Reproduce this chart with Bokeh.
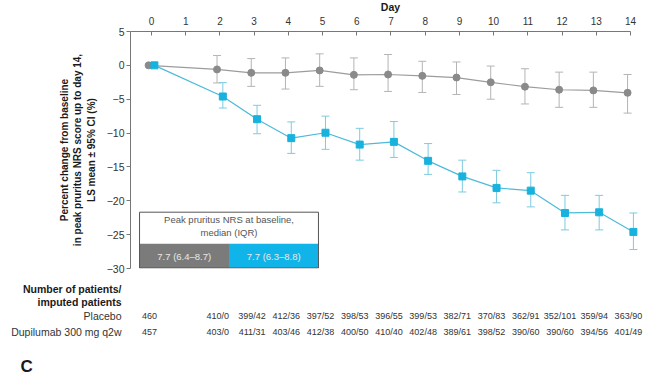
from bokeh.plotting import figure
from bokeh.models import Range1d, ColumnDataSource, Whisker, TeeHead, FixedTicker
from bokeh.transform import dodge
from bokeh.core.properties import value
from bokeh.embed import file_html
from bokeh.resources import INLINE

FONT = "Liberation Sans"

# ---------------- data ----------------
days = [0, 2, 3, 4, 5, 6, 7, 8, 9, 10, 11, 12, 13, 14]
placebo_mean = [0, -0.6, -1.1, -1.1, -0.75, -1.4, -1.35, -1.55, -1.8, -2.5, -3.15, -3.6, -3.7, -4.05]
dupi_mean = [0, -4.6, -7.95, -10.75, -9.95, -11.7, -11.3, -14.1, -16.4, -18.1, -18.5, -21.8, -21.7, -24.6]

ci_days = [2, 3, 4, 5, 6, 7, 8, 9, 10, 11, 12, 13, 14]
placebo_upper = [1.45, 1.0, 1.1, 1.7, 1.1, 1.6, 0.6, 0.5, -0.1, -0.5, -1.0, -1.0, -1.35]
placebo_lower = [-2.6, -3.1, -3.5, -3.1, -3.6, -3.85, -4.0, -4.3, -5.0, -5.7, -6.2, -6.2, -7.05]
dupi_upper = [-2.55, -5.9, -8.35, -7.5, -9.3, -8.3, -11.55, -14.0, -15.5, -15.85, -19.2, -19.2, -21.8]
dupi_lower = [-6.3, -10.1, -13.0, -12.4, -14.0, -13.6, -16.1, -18.7, -20.3, -20.9, -24.3, -24.3, -27.2]

placebo_n = ["460", "410/0", "399/42", "412/36", "397/52", "398/53", "396/55", "399/53",
             "382/71", "370/83", "362/91", "352/101", "359/94", "363/90"]
dupi_n = ["457", "403/0", "411/31", "403/46", "412/38", "400/50", "410/40", "402/48",
          "389/61", "398/52", "390/60", "390/60", "394/56", "401/49"]

x_ticks = list(range(15))
y_ticks = [5, 0, -5, -10, -15, -20, -25, -30]
y_tick_labels = {t: (str(t) if t >= 0 else "\u2212" + str(-t)) for t in y_ticks}

series_names = ["Placebo", "Dupilumab 300 mg q2w"]
table_title = ["Number of patients/", "imputed patients"]
legend_title = ["Peak pruritus NRS at baseline,", "median (IQR)"]
baseline_median = ["7.7 (6.4\u20138.7)", "7.7 (6.3\u20138.8)"]
x_label = "Day"
y_label = "Percent change from baseline\nin peak pruritus NRS score up to day 14,\nLS mean \u00b1 95% CI (%)"
panel_letter = "C"

# ---------------- style ----------------
GRAY = "#8a8a8a"
GRAY_LINE = "#9c9c9c"
GRAY_ERR = "#b4b4b4"
CYAN = "#17b2dd"
CYAN_LINE = "#4dbad8"
CYAN_ERR = "#7ccbe0"
CELL_GRAY = "#7b7b7b"
CELL_CYAN = "#10b4e8"
OFF = 0.085

X0, X1 = -0.614, 14.585
Y0, Y1 = -30, 5
PXY = 237 / 35.0          # pixels per y unit (frame rows 31..268 of the picture)
PXX = 34.21               # pixels per day (day 0 at column 151)
TOP = 40                  # top border of the chart figure
SHIFT = TOP - 31          # the chart figure is pulled up so that its frame starts at row 31
BOTTOM = 8
H1 = TOP + 237 + BOTTOM   # chart figure height
T0 = 31 + 237 + BOTTOM    # picture row where the table figure starts
H2 = 376 - T0


def ypx(px):               # picture row -> data y of the chart
    return Y1 - (px - 31) / PXY


p = figure(width=659, height=H1, x_range=Range1d(X0, X1), y_range=Range1d(Y0, Y1),
           x_axis_location="above", output_backend="svg", toolbar_location=None,
           min_border_left=130, min_border_right=9, min_border_top=TOP, min_border_bottom=BOTTOM)
p.styles = {"margin-top": f"-{SHIFT}px"}
p.outline_line_color = None
p.grid.visible = False
p.background_fill_color = "white"
p.border_fill_color = "white"

xa = p.xaxis[0]
xa.ticker = FixedTicker(ticks=x_ticks)
xa.bounds = (X0, 14)
xa.axis_line_color = "#777777"
xa.major_tick_line_color = "#777777"
xa.major_tick_in = 4
xa.major_tick_out = 0
xa.minor_tick_line_color = None
xa.major_label_text_font = FONT
xa.major_label_text_font_size = "10px"
xa.major_label_text_color = "#333333"
xa.major_label_standoff = 7
xa.axis_label = x_label
xa.axis_label_text_font = FONT
xa.axis_label_text_font_size = "10.5px"
xa.axis_label_text_font_style = "bold"
xa.axis_label_text_color = "#1a1a1a"
xa.axis_label_standoff = 1

ya = p.yaxis[0]
ya.ticker = FixedTicker(ticks=y_ticks)
ya.major_label_overrides = y_tick_labels
ya.axis_line_color = "#777777"
ya.major_tick_line_color = "#777777"
ya.major_tick_in = 0
ya.major_tick_out = 4
ya.minor_tick_line_color = None
ya.major_label_text_font = FONT
ya.major_label_text_font_size = "10.5px"
ya.major_label_text_color = "#333333"
ya.major_label_standoff = 2
ya.axis_label = y_label
ya.axis_label_text_font = FONT
ya.axis_label_text_font_size = "10px"
ya.axis_label_text_font_style = "bold"
ya.axis_label_text_color = "#1a1a1a"
ya.axis_label_standoff = 7

src = ColumnDataSource(dict(day=days, plc=placebo_mean, dup=dupi_mean))
ci = ColumnDataSource(dict(day=ci_days, pu=placebo_upper, pl=placebo_lower,
                           du=dupi_upper, dl=dupi_lower))

p.add_layout(Whisker(source=ci, base=dodge("day", -OFF), upper="pu", lower="pl",
                     line_color=GRAY_ERR, line_width=1,
                     upper_head=TeeHead(size=8, line_color=GRAY_ERR, line_width=1),
                     lower_head=TeeHead(size=8, line_color=GRAY_ERR, line_width=1)))
p.add_layout(Whisker(source=ci, base=dodge("day", OFF), upper="du", lower="dl",
                     line_color=CYAN_ERR, line_width=1,
                     upper_head=TeeHead(size=8, line_color=CYAN_ERR, line_width=1),
                     lower_head=TeeHead(size=8, line_color=CYAN_ERR, line_width=1)))

p.line(x=dodge("day", -OFF), y="plc", source=src, line_color=GRAY_LINE, line_width=1.2)
p.line(x=dodge("day", OFF), y="dup", source=src, line_color=CYAN_LINE, line_width=1.2)
p.scatter(x=dodge("day", -OFF), y="plc", source=src, marker="circle", size=7,
          fill_color=GRAY, line_color=GRAY)
p.scatter(x=dodge("day", OFF), y="dup", source=src, marker="square", size=7,
          fill_color=CYAN, line_color=CYAN)

# baseline inset box
BX0, BX1 = -0.35, 4.88
BXM = (BX0 + BX1) / 2
BY0, BYM, BY1 = ypx(211.7), ypx(243.3), -29.93
p.quad(left=[BX0], right=[BX1], top=[BY0], bottom=[BYM], fill_color="white", line_color=None)
p.quad(left=[BX0], right=[BXM], top=[BYM], bottom=[BY1], fill_color=CELL_GRAY, line_color=None)
p.quad(left=[BXM], right=[BX1], top=[BYM], bottom=[BY1], fill_color=CELL_CYAN, line_color=None)
p.quad(left=[BX0], right=[BX1], top=[BY0], bottom=[BY1], fill_color=None,
       line_color="#555555", line_width=1)
p.text(x=[BXM, BXM], y=[ypx(219), ypx(232)], text=legend_title, text_align="center",
       text_baseline="middle", text_font=value(FONT), text_font_size="9.5px", text_color="#555555")
p.text(x=[(BX0 + BXM) / 2, (BXM + BX1) / 2], y=[ypx(256), ypx(256)], text=baseline_median,
       text_align="center", text_baseline="middle", text_font=value(FONT),
       text_font_size="9.5px", text_color="#e9e9e9")

# ---------------- table below the chart ----------------
t = figure(width=659, height=H2, x_range=Range1d(-151 / PXX, 508 / PXX), y_range=Range1d(H2, 0),
           output_backend="svg", toolbar_location=None, x_axis_location=None,
           y_axis_location=None, min_border=0)
t.outline_line_color = None
t.grid.visible = False


def xt(px):                # picture column -> table x
    return (px - 151) / PXX


def yt(px):                # picture row -> table y
    return px - T0


tsrc = ColumnDataSource(dict(day=days, plc=placebo_n, dup=dupi_n))
t.text(x=[xt(121), xt(121)], y=[yt(288), yt(301)], text=table_title, text_align="right",
       text_baseline="middle", text_font=value(FONT), text_font_size="10.5px",
       text_font_style="bold", text_color="#1a1a1a")
t.text(x=[xt(121), xt(121)], y=[yt(315.5), yt(331)], text=series_names, text_align="right",
       text_baseline="middle", text_font=value(FONT), text_font_size="10.5px",
       text_color="#333333")
t.text(x=dodge("day", -0.06), y=yt(315.5), text="plc", source=tsrc, text_align="center",
       text_baseline="middle", text_font=value(FONT), text_font_size="9px", text_color="#333333")
t.text(x=dodge("day", -0.06), y=yt(331), text="dup", source=tsrc, text_align="center",
       text_baseline="middle", text_font=value(FONT), text_font_size="9px", text_color="#333333")
t.text(x=[xt(20)], y=[yt(366)], text=[panel_letter], text_align="left", text_baseline="middle",
       text_font=value(FONT), text_font_size="17px", text_font_style="bold", text_color="#1a1a1a")

open("out.html", "w").write(file_html([p, t], INLINE))
